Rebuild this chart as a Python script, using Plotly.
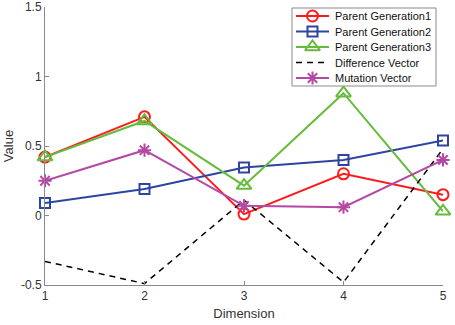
import plotly.graph_objects as go

dims = [1, 2, 3, 4, 5]
parent1 = [0.42, 0.71, 0.01, 0.30, 0.15]
parent2 = [0.09, 0.19, 0.345, 0.40, 0.54]
parent3 = [0.42, 0.68, 0.215, 0.88, 0.03]
diff_vec = [-0.33, -0.49, 0.11, -0.48, 0.48]
mutation = [0.25, 0.47, 0.07, 0.06, 0.40]

names = ["Parent Generation1", "Parent Generation2", "Parent Generation3",
         "Difference Vector", "Mutation Vector"]
colors = ["#ff1a1a", "#2d45a0", "#66bb3c", "black", "#b548a4"]
symbols = ["circle-open", "square-open", "triangle-up-open", None, "asterisk-open"]
msizes = [11, 10, 13, 0, 11]
series = [parent1, parent2, parent3, diff_vec, mutation]

FONT = "Arial, Liberation Sans, sans-serif"

fig = go.Figure()
for name, vals, col, sym, ms in zip(names, series, colors, symbols, msizes):
    if sym is None:
        fig.add_trace(go.Scatter(x=dims, y=vals, name=name, mode="lines", showlegend=False,
                                 line=dict(color=col, width=1.5, dash="6px,5px")))
    else:
        fig.add_trace(go.Scatter(x=dims, y=vals, name=name, mode="lines+markers", showlegend=False,
                                 line=dict(color=col, width=2),
                                 marker=dict(symbol=sym, size=ms, color=col,
                                             line=dict(width=2, color=col)),
                                 cliponaxis=False))

# --- custom legend (layout positions in pixel-like overlay axes) ---
box_l, box_r, box_t, box_b = 292, 436, 8, 86
fig.add_trace(go.Scatter(x=[box_l, box_r, box_r, box_l, box_l], y=[box_t, box_t, box_b, box_b, box_t],
                         xaxis="x2", yaxis="y2", mode="lines", fill="toself", fillcolor="white",
                         line=dict(color="#8a8a8a", width=1), showlegend=False, hoverinfo="skip"))
row_y = [16, 31.5, 47, 62.5, 78]
for name, col, sym, ms, ry in zip(names, colors, symbols, msizes, row_y):
    if sym is None:
        fig.add_trace(go.Scatter(x=[296, 329], y=[ry, ry], xaxis="x2", yaxis="y2", mode="lines",
                                 line=dict(color=col, width=1.5, dash="6px,5px"),
                                 showlegend=False, hoverinfo="skip"))
    else:
        fig.add_trace(go.Scatter(x=[296, 329], y=[ry, ry], xaxis="x2", yaxis="y2", mode="lines",
                                 line=dict(color=col, width=2), showlegend=False, hoverinfo="skip"))
        fig.add_trace(go.Scatter(x=[312.5], y=[ry], xaxis="x2", yaxis="y2", mode="markers",
                                 marker=dict(symbol=sym, size=ms, color=col,
                                             line=dict(width=2, color=col)),
                                 showlegend=False, hoverinfo="skip"))
    fig.add_annotation(x=333, y=ry, xref="x2", yref="y2", text=name, showarrow=False,
                       xanchor="left", yanchor="middle",
                       font=dict(family=FONT, size=11, color="#111111"))

axis_common = dict(showline=True, linecolor="#8a8a8a", linewidth=1, ticks="inside",
                   ticklen=4, tickcolor="#8a8a8a", showgrid=False, zeroline=False,
                   automargin=False,
                   tickfont=dict(family=FONT, size=12, color="#333333"))

fig.update_layout(
    width=455, height=325,
    margin=dict(l=45, r=12, t=7, b=40),
    paper_bgcolor="white", plot_bgcolor="white",
    font=dict(family=FONT, size=12, color="#333333"),
    xaxis=dict(range=[1, 5], tickvals=dims, title=dict(text="Dimension", font=dict(size=13), standoff=6),
               **axis_common),
    yaxis=dict(range=[-0.5, 1.5], tickvals=[-0.5, 0, 0.5, 1, 1.5],
               ticktext=["-0.5", "0", "0.5", "1", "1.5"],
               title=dict(text="Value", font=dict(size=13), standoff=4), **axis_common),
    xaxis2=dict(overlaying="x", range=[45, 443], visible=False, fixedrange=True),
    yaxis2=dict(overlaying="y", range=[285, 7], visible=False, fixedrange=True),
    showlegend=False,
)

fig.write_html("out.html")
